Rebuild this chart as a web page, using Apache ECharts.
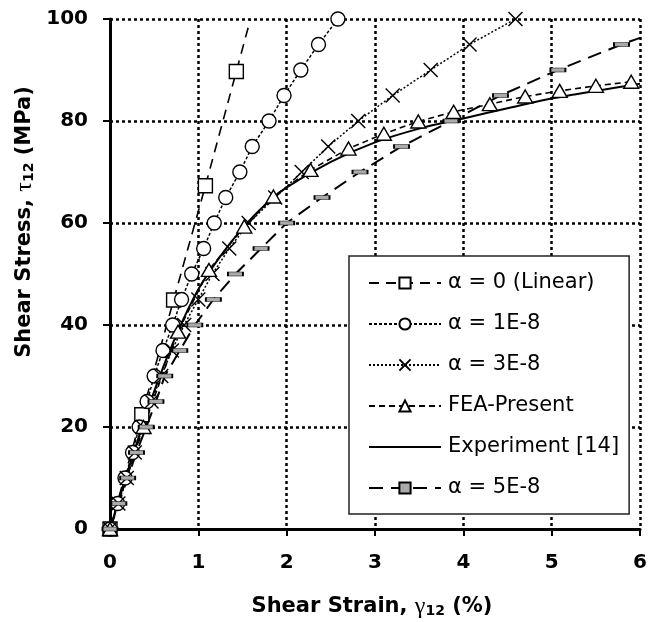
<!DOCTYPE html>
<html><head><meta charset="utf-8">
<script src="https://cdn.jsdelivr.net/npm/echarts@6/dist/echarts.min.js"></script>
<style>html,body{margin:0;padding:0;background:#fff}#c{width:650px;height:622px}</style>
</head><body><div id="c"></div>
<script>
// ---- data ----
const seriesNames = ['α = 0 (Linear)', 'α = 1E-8', 'α = 3E-8', 'FEA-Present', 'Experiment [14]', 'α = 5E-8'];

const linearStrain = [0, 0.36, 0.72, 1.08, 1.43, 1.59];
const linearStress = [0, 22.4, 44.9, 67.3, 89.7, 100];

const alpha1Strain = [0, 0.087, 0.17, 0.255, 0.33, 0.42, 0.50, 0.60, 0.71, 0.81, 0.925, 1.06, 1.18, 1.31, 1.47, 1.61, 1.80, 1.97, 2.16, 2.36, 2.58];
const alpha1Stress = [0, 5, 10, 15, 20, 25, 30, 35, 40, 45, 50, 55, 60, 65, 70, 75, 80, 85, 90, 95, 100];

const alpha3Strain = [0, 0.095, 0.19, 0.28, 0.37, 0.47, 0.58, 0.70, 0.84, 1.00, 1.16, 1.35, 1.57, 1.87, 2.17, 2.47, 2.81, 3.20, 3.63, 4.07, 4.59];
const alpha3Stress = [0, 5, 10, 15, 20, 25, 30, 35, 40, 45, 50, 55, 60, 65, 70, 75, 80, 85, 90, 95, 100];

const feaStrain = [0, 0.38, 0.77, 1.12, 1.52, 1.85, 2.27, 2.70, 3.10, 3.49, 3.89, 4.30, 4.70, 5.09, 5.50, 5.90];
const feaStress = [0, 20.0, 38.7, 50.8, 59.3, 65.2, 70.4, 74.6, 77.5, 79.9, 81.8, 83.3, 84.8, 85.9, 86.9, 87.7];

const expStrain = [0, 0.25, 0.5, 0.75, 1.0, 1.25, 1.5, 1.75, 2.0, 2.5, 3.0, 3.5, 4.0, 4.5, 5.0, 5.5, 6.0];
const expStress = [0, 14, 27, 38, 47, 53.5, 59, 63.5, 67, 72, 75.8, 78.5, 80.5, 82.5, 84.4, 85.9, 87.3];

const alpha5Strain = [0, 0.10, 0.20, 0.30, 0.41, 0.52, 0.62, 0.79, 0.96, 1.17, 1.42, 1.71, 2.00, 2.40, 2.83, 3.30, 3.86, 4.42, 5.07, 5.79, 6.0];
const alpha5Stress = [0, 5, 10, 15, 20, 25, 30, 35, 40, 45, 50, 55, 60, 65, 70, 75, 80, 85, 90, 95, 96.3];

const xMin = 0, xMax = 6, xStep = 1;
const yMin = 0, yMax = 100, yStep = 20;

// ---- build ----
function pairs(xs, ys, lastNoSymbol) {
  return xs.map((x, i) => {
    if (lastNoSymbol && i === xs.length - 1) return { value: [x, ys[i]], symbol: 'none' };
    return [x, ys[i]];
  });
}
const FONT = 'DejaVu Sans';
const chart = echarts.init(document.getElementById('c'), null, { renderer: 'canvas' });

const legendData = seriesNames.map(n => n === 'Experiment [14]'
  ? { name: n, itemStyle: { color: 'rgba(0,0,0,0)', borderColor: 'rgba(0,0,0,0)', borderWidth: 0, opacity: 0 } }
  : { name: n });

const option = {
  animation: false,
  backgroundColor: '#fff',
  grid: { left: 110, right: 6, top: 19, bottom: 93, containLabel: false },
  xAxis: {
    type: 'value', min: xMin, max: xMax, interval: xStep,
    axisLine: { show: true, onZero: false, lineStyle: { color: '#000', width: 3 } },
    axisTick: { show: true, inside: false, length: 7, lineStyle: { color: '#000', width: 2 } },
    axisLabel: { margin: 24, color: '#000', fontFamily: FONT, fontWeight: 'bold', fontSize: 20 },
    splitLine: { show: true, lineStyle: { color: '#000', width: 2.5, type: [3, 3] } }
  },
  yAxis: {
    type: 'value', min: yMin, max: yMax, interval: yStep,
    axisLine: { show: true, onZero: false, lineStyle: { color: '#000', width: 3 } },
    axisTick: { show: true, inside: false, length: 7, lineStyle: { color: '#000', width: 2 } },
    axisLabel: { margin: 22, color: '#000', fontFamily: FONT, fontWeight: 'bold', fontSize: 20 },
    splitLine: { show: true, lineStyle: { color: '#000', width: 2.5, type: [3, 3] } }
  },
  legend: {
    orient: 'vertical', left: 349, top: 256,
    padding: [16, 10, 15, 19],
    backgroundColor: '#fff', borderColor: '#222', borderWidth: 1.5,
    itemWidth: 72, itemHeight: 14, itemGap: 19,
    textStyle: { color: '#000', fontFamily: FONT, fontSize: 21, lineHeight: 22, padding: [0, 0, 0, 2] },
    data: legendData
  },
  graphic: [
    {
      type: 'text', x: 372, y: 607,
      style: {
        text: 'Shear Strain, {g|γ}{s|12} (%)',
        font: 'bold 21px "DejaVu Sans"', fill: '#000', align: 'center', verticalAlign: 'middle',
        rich: {
          g: { fontFamily: 'Liberation Serif', fontSize: 24, fontWeight: 'normal', fill: '#000' },
          s: { fontFamily: FONT, fontWeight: 'bold', fontSize: 14, padding: [9, 0, 0, 0] }
        }
      }
    },
    {
      type: 'text', x: 25, y: 222, rotation: Math.PI / 2,
      style: {
        text: 'Shear Stress, {g|τ}{s|12} (MPa)',
        font: 'bold 21px "DejaVu Sans"', fill: '#000', align: 'center', verticalAlign: 'middle',
        rich: {
          g: { fontFamily: 'Liberation Serif', fontSize: 24, fontWeight: 'normal', fill: '#000' },
          s: { fontFamily: FONT, fontWeight: 'bold', fontSize: 14, padding: [9, 0, 0, 0] }
        }
      }
    }
  ],
  series: [
    {
      name: seriesNames[0], type: 'line', data: pairs(linearStrain, linearStress, true),
      symbol: 'rect', symbolSize: 14, showAllSymbol: true,
      lineStyle: { color: '#000', width: 1.6, type: [10, 7] },
      itemStyle: { color: '#fff', borderColor: '#000', borderWidth: 1.4 }
    },
    {
      name: seriesNames[1], type: 'line', data: pairs(alpha1Strain, alpha1Stress, false),
      symbol: 'circle', symbolSize: 14, showAllSymbol: true,
      lineStyle: { color: '#000', width: 1.5, type: [3, 2] },
      itemStyle: { color: '#fff', borderColor: '#000', borderWidth: 1.4 }
    },
    {
      name: seriesNames[2], type: 'line', data: pairs(alpha3Strain, alpha3Stress, false),
      symbol: 'path://M0,0L10,10M10,0L0,10', symbolSize: 14, showAllSymbol: true,
      lineStyle: { color: '#000', width: 1.5, type: [2, 2] },
      itemStyle: { color: 'rgba(0,0,0,0)', borderColor: '#000', borderWidth: 1.4 }
    },
    {
      name: seriesNames[3], type: 'line', data: pairs(feaStrain, feaStress, false),
      symbol: 'triangle', symbolSize: [15, 13], showAllSymbol: true,
      lineStyle: { color: '#000', width: 1.6, type: [6, 4] },
      itemStyle: { color: '#fff', borderColor: '#000', borderWidth: 1.4 }
    },
    {
      name: seriesNames[4], type: 'line', data: pairs(expStrain, expStress, false),
      symbol: 'none', smooth: 0.3,
      lineStyle: { color: '#000', width: 2 },
      itemStyle: { color: '#000' }
    },
    {
      name: seriesNames[5], type: 'line', data: pairs(alpha5Strain, alpha5Stress, true),
      symbol: 'rect', symbolSize: [15, 4], showAllSymbol: true,
      lineStyle: { color: '#000', width: 2, type: [14, 8] },
      itemStyle: { color: '#aaa', borderColor: '#000', borderWidth: 1 }
    }
  ]
};
chart.setOption(option);
</script>
</body></html>
